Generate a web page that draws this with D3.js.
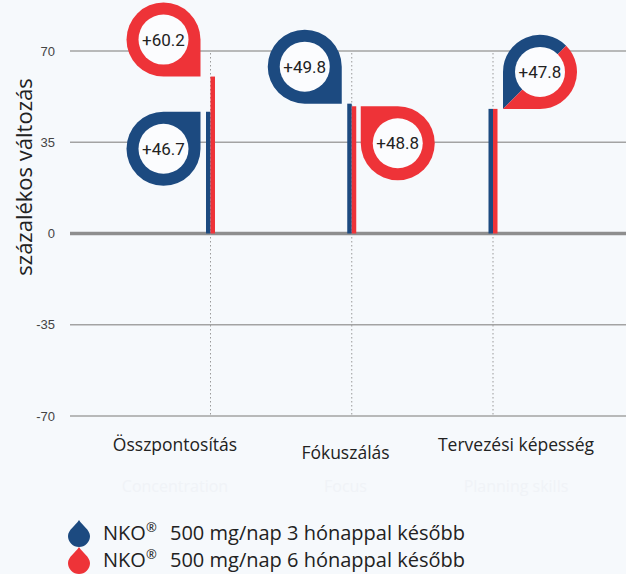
<!DOCTYPE html>
<html>
<head>
<meta charset="utf-8">
<style>
  body { margin: 0; background: #f6f9fc; }
  svg { display: block; font-family: "Open Sans", sans-serif; }
  .tick text { font-size: 13px; fill: #444; }
</style>
</head>
<body>
<svg width="626" height="574"></svg>
<script src="https://cdn.jsdelivr.net/npm/d3@7"></script>
<script>

    var categories = ["Összpontosítás", "Fókuszálás", "Tervezési képesség"];
    var ghostLabels = ["Concentration", "Focus", "Planning skills"];
    var months3 = [46.7, 49.8, 47.8];
    var months6 = [60.2, 48.8, 47.8];
    var yTicks = [-70, -35, 0, 35, 70];
    var seriesNames = ["500 mg/nap 3 hónappal később", "500 mg/nap 6 hónappal később"];

    var blue = "#1c4a80",
        red = "#ee3338",
        bg = "#f6f9fc";

    var svg = d3.select("svg"),
        width = +svg.attr("width"),
        margin = {top: 51, left: 70};

    svg.append("rect").attr("width", width).attr("height", 574).attr("fill", bg);

    var y = d3.scaleLinear()
        .domain([-70, 70])
        .range([416, 51]);

    var x = d3.scalePoint()
        .domain(categories)
        .range([210.5, 493]);

    // labels sit on a wider spread than the bars
    var xLabel = d3.scalePoint()
        .domain(categories)
        .range([175, 516]);

    // grid lines
    svg.append("g")
        .selectAll("line")
        .data(yTicks)
        .enter().append("line")
        .attr("x1", margin.left)
        .attr("x2", width)
        .attr("y1", function(d) { return y(d); })
        .attr("y2", function(d) { return y(d); })
        .attr("stroke", function(d) { return d === 0 ? "#8e8e8e" : "#a3a3a3"; })
        .attr("stroke-width", function(d) { return d === 0 ? 3.5 : 1.5; });

    svg.append("g")
        .attr("transform", "translate(" + margin.left + ",0)")
        .call(d3.axisLeft(y).tickValues(yTicks).tickFormat(function(d) { return String(d); })
            .tickSize(0).tickPadding(15))
        .call(function(g) { g.select(".domain").remove(); });

    // faint y title underneath
    svg.append("text")
        .attr("transform", "translate(33,205) rotate(-90)")
        .attr("text-anchor", "middle")
        .attr("font-size", 13)
        .attr("fill", "#eff2f6")
        .text("Percent (%)");

    svg.append("text")
        .attr("transform", "translate(32,177) rotate(-90)")
        .attr("text-anchor", "middle")
        .attr("font-size", 22)
        .attr("fill", "#222")
        .text("százalékos változás");

    // dotted guides
    svg.append("g")
        .selectAll("line")
        .data(categories)
        .enter().append("line")
        .attr("x1", function(d) { return x(d); })
        .attr("x2", function(d) { return x(d); })
        .attr("y1", y(70) + 2)
        .attr("y2", y(-70))
        .attr("stroke", "#9a9a9a")
        .attr("stroke-width", 1)
        .attr("stroke-dasharray", "1.5,2.5");

    // bars
    var bw = 4.5;
    var bars = svg.append("g");
    bars.selectAll(".b3")
        .data(categories)
        .enter().append("rect")
        .attr("x", function(d) { return x(d) - bw; })
        .attr("y", function(d, i) { return y(months3[i]); })
        .attr("width", bw)
        .attr("height", function(d, i) { return y(0) - y(months3[i]); })
        .attr("fill", blue);
    bars.selectAll(".b6")
        .data(categories)
        .enter().append("rect")
        .attr("x", function(d) { return x(d); })
        .attr("y", function(d, i) { return y(months6[i]); })
        .attr("width", bw)
        .attr("height", function(d, i) { return y(0) - y(months6[i]); })
        .attr("fill", red);

    // markers: the square corner points at the top of the bar
    var R = 37, r = 25;

    function markerPath(cx, cy, sx, sy) {
        var sweep = sx * sy > 0 ? 1 : 0;
        return "M" + (cx + sx * R) + "," + cy +
            "L" + (cx + sx * R) + "," + (cy + sy * R) +
            "L" + cx + "," + (cy + sy * R) +
            "A" + R + "," + R + " 0 1 " + sweep + " " + (cx + sx * R) + "," + cy + "Z";
    }

    function label(cx, cy, v) {
        svg.append("circle").attr("cx", cx).attr("cy", cy).attr("r", r).attr("fill", "#fbfcfe");
        svg.append("text")
            .attr("x", cx).attr("y", cy + 6)
            .attr("text-anchor", "middle")
            .attr("font-family", "Roboto, sans-serif")
            .attr("font-size", 17)
            .attr("fill", "#222")
            .text("+" + v.toFixed(1));
    }

    function marker(tipX, tipY, sx, sy, v, color) {
        var cx = tipX - sx * R, cy = tipY - sy * R;
        svg.append("path").attr("d", markerPath(cx, cy, sx, sy)).attr("fill", color);
        label(cx, cy, v);
    }

    var gap = 10;
    // Összpontosítás: both to the left
    marker(x(categories[0]) - gap, y(months6[0]), 1, 1, months6[0], red);
    marker(x(categories[0]) - gap, y(months3[0]), 1, -1, months3[0], blue);
    // Fókuszálás: blue left, red right
    marker(x(categories[1]) - gap, y(months3[1]), 1, 1, months3[1], blue);
    marker(x(categories[1]) + gap - 1, y(months6[1]), -1, -1, months6[1], red);

    // Tervezési képesség: shared marker, split diagonally
    (function() {
        var tipX = x(categories[2]) + gap, tipY = y(months3[2]);
        var cx = tipX + R, cy = tipY - R;
        var qx = cx + R * Math.SQRT1_2, qy = cy - R * Math.SQRT1_2;
        svg.append("path")
            .attr("d", "M" + tipX + "," + tipY + "L" + (cx - R) + "," + cy +
                "A" + R + "," + R + " 0 0 1 " + qx + "," + qy + "L" + cx + "," + cy + "Z")
            .attr("fill", blue);
        svg.append("path")
            .attr("d", "M" + qx + "," + qy + "A" + R + "," + R + " 0 0 1 " + cx + "," + (cy + R) +
                "L" + tipX + "," + tipY + "Z")
            .attr("fill", red);
        label(cx, cy, months3[2]);
    })();

    // category labels
    svg.append("g")
        .selectAll("text")
        .data(categories)
        .enter().append("text")
        .attr("x", function(d) { return xLabel(d); })
        .attr("y", function(d, i) { return i === 1 ? 459 : 451; })
        .attr("text-anchor", "middle")
        .attr("font-size", 17.5)
        .attr("fill", "#222")
        .text(function(d) { return d; });

    svg.append("g")
        .selectAll("text")
        .data(ghostLabels)
        .enter().append("text")
        .attr("x", function(d, i) { return xLabel(categories[i]); })
        .attr("y", 492)
        .attr("text-anchor", "middle")
        .attr("font-size", 16)
        .attr("fill", "#f0f3f7")
        .text(function(d) { return d; });

    // legend
    function drop(g, color) {
        g.append("path")
            .attr("d", "M0,-13 C3,-8 11,-3 11,3 A11,11 0 0 1 -11,3 C-11,-3 -3,-8 0,-13Z")
            .attr("fill", color);
    }

    var legend = svg.append("g")
        .selectAll("g")
        .data(seriesNames)
        .enter().append("g")
        .attr("transform", function(d, i) { return "translate(79," + (533 + i * 27) + ")"; });

    legend.each(function(d, i) { drop(d3.select(this), i === 0 ? blue : red); });

    var lt = legend.append("text")
        .attr("x", 24)
        .attr("y", 7)
        .attr("font-size", 20)
        .attr("fill", "#222");
    lt.append("tspan").text("NKO");
    lt.append("tspan").attr("font-size", 13).attr("dy", -8).text("®");
    lt.append("tspan").attr("x", 91).attr("dy", 8).text(function(d) { return d; });

</script>
</body>
</html>
